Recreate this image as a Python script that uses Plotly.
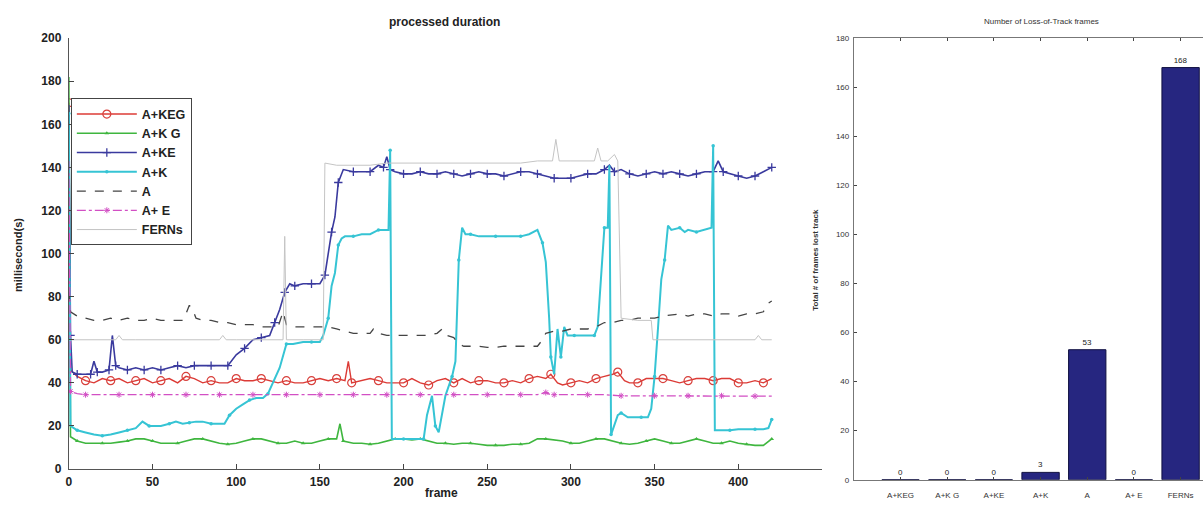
import plotly.graph_objects as go

# ---------------- data: left chart (processed duration, ms per frame) ----------------
keg_f = [0, 1, 5, 10, 15, 20, 25, 30, 35, 40, 45, 50, 55, 60, 65, 70, 75, 80, 85, 90, 95, 100, 105, 110, 115, 120,
         125, 130, 135, 140, 145, 150, 155, 160, 165, 167, 169, 175, 180, 185, 190, 195, 200, 205, 210, 215, 220, 225,
         230, 235, 240, 245, 250, 255, 260, 265, 270, 275, 280, 285, 288, 292, 295, 300, 305, 310, 315, 320, 325, 328,
         332, 335, 340, 345, 350, 355, 360, 365, 370, 375, 380, 385, 390, 395, 400, 405, 410, 415, 420]
keg_ms = [170, 46, 43, 41, 40, 42, 41, 42, 40, 41, 42, 40, 41, 42, 40, 43, 42, 40, 41, 40, 40, 42, 41, 41, 42, 41,
          40, 41, 40, 40, 41, 42, 41, 42, 41, 50, 40, 41, 42, 41, 40, 40, 40, 42, 40, 39, 41, 42,
          40, 42, 40, 41, 41, 40, 40, 41, 40, 42, 43, 42, 44, 40, 39, 40, 41, 40, 42, 43, 44, 45,
          41, 40, 40, 42, 42, 42, 41, 40, 41, 42, 42, 41, 42, 42, 40, 40, 41, 40, 42]

kg_f = [0, 1, 5, 10, 15, 20, 25, 30, 35, 40, 45, 50, 55, 60, 65, 70, 75, 80, 85, 90, 95, 100, 105, 110, 115, 120, 125,
        130, 135, 140, 145, 150, 155, 160, 162, 164, 170, 175, 180, 185, 190, 195, 200, 205, 210, 215, 220, 225, 230,
        235, 240, 245, 250, 255, 260, 265, 270, 275, 280, 285, 290, 295, 300, 305, 310, 315, 320, 325, 330, 335, 340,
        345, 350, 355, 360, 365, 370, 375, 380, 385, 390, 395, 400, 405, 410, 415, 420]
kg_ms = [182, 15, 13, 12, 12, 12, 12, 12.5, 13, 14, 14, 13, 12, 12, 12, 13, 14, 14, 13, 12, 11.5, 12, 13, 14, 14, 13, 12,
         12, 13, 12, 12, 13, 14, 14, 21, 13, 12, 12, 11.5, 12, 13, 14, 14, 13.5, 14, 13, 12, 12, 11.5,
         12, 12, 11.5, 11, 11, 11, 11.5, 11.5, 12, 14, 14, 13.5, 13, 12, 12, 13, 14, 14, 13, 12, 11.5, 12,
         13, 14, 13, 12, 12, 13, 14, 13, 12, 12, 13, 12, 11.5, 11, 11, 14]

ke_f = [0, 1, 2, 5, 10, 13, 15, 17, 20, 24, 26, 28, 30, 35, 40, 45, 50, 55, 60, 65, 70, 75, 80, 85, 90, 95, 100, 105,
        110, 115, 120, 123, 126, 129, 132, 135, 140, 145, 150, 153, 155, 157, 159, 161, 164, 170, 175, 180, 185, 188,
        190, 192, 195, 200, 205, 210, 215, 220, 225, 230, 235, 240, 245, 250, 255, 260, 265, 270, 275, 280, 285, 290,
        295, 300, 305, 310, 315, 320, 323, 326, 330, 335, 340, 345, 350, 355, 360, 365, 370, 375, 380, 385, 388, 391,
        395, 400, 405, 410, 415, 420]
ke_ms = [169, 62, 45, 44, 44, 44, 50, 45, 45, 46, 62, 48, 47, 46, 47, 46, 47, 46, 47, 48, 47, 48, 48, 48, 48, 48, 53, 56,
         60, 61, 62, 68, 74, 82, 86, 85, 86, 86, 86, 90, 100, 110, 117, 133, 139, 138, 138, 138, 141, 140,
         145, 139, 138, 137, 137, 138, 137, 137, 138, 137, 136, 137, 138, 137, 137, 136, 137, 138, 138, 137, 136, 135,
         135, 135, 136, 137, 137, 139, 141, 138, 139, 137, 136, 137, 138, 137, 138, 137, 136, 137, 138, 138, 143, 138,
         137, 136, 135, 136, 138, 140]

k_f = [0, 1, 3, 5, 10, 15, 20, 25, 30, 35, 40, 44, 48, 52, 55, 60, 64, 68, 72, 76, 80, 85, 90, 93, 96, 100, 104, 108,
       112, 116, 119, 122, 126, 130, 134, 140, 145, 150, 152, 155, 157, 159, 161, 163, 165, 170, 175, 180, 185, 188,
       191, 192, 193, 195, 200, 205, 210, 212, 214, 217, 219, 221, 225, 229, 231, 232, 233, 235, 237, 240, 245, 250,
       255, 260, 265, 270, 275, 280, 283, 285, 287, 288, 290, 292, 294, 296, 298, 302, 306, 310, 314, 316, 318, 320,
       322, 323, 324, 326, 328, 330, 334, 338, 342, 346, 348, 350, 352, 354, 356, 358, 360, 365, 368, 370, 375, 380,
       384, 385, 386, 390, 395, 400, 405, 410, 415, 418, 420]
k_ms = [165, 20, 19, 18, 17, 16, 15.5, 16, 17, 18, 19, 22, 20, 20, 20, 21, 22, 21, 21.5, 22, 22, 21, 21, 21, 25, 28, 30, 32,
        33, 33, 35, 40, 47, 58, 58, 59, 59, 59, 62, 70, 85, 91, 104, 107, 108, 108, 109, 109, 111, 111,
        111, 148, 14, 14, 14, 14, 14, 14, 25, 34, 20, 17, 34, 43, 50, 75, 97, 112, 109, 109, 108, 108,
        108, 108, 108, 108, 109, 111, 105, 96, 70, 52, 44, 65, 52, 66, 62, 62, 62, 62, 62, 66, 88, 112,
        112, 141, 16, 21, 25, 26, 24, 24, 24, 24, 28, 43, 65, 88, 97, 113, 111, 112, 110, 111, 110, 111,
        112, 150, 18, 18, 18, 18.5, 18.5, 18.5, 18.5, 19, 23]

a_f = [0, 1, 5, 10, 15, 20, 25, 30, 35, 40, 45, 50, 55, 60, 65, 68, 70, 72, 74, 76, 80, 85, 90, 95, 100, 105, 110, 115,
       120, 125, 128, 130, 135, 140, 145, 150, 155, 160, 165, 170, 175, 180, 182, 185, 190, 195, 200, 205, 210, 215,
       220, 223, 226, 230, 233, 236, 240, 245, 250, 255, 260, 265, 270, 275, 280, 283, 285, 290, 295, 300, 305, 310,
       315, 320, 325, 330, 335, 340, 345, 350, 355, 360, 365, 370, 375, 380, 385, 390, 395, 400, 405, 410, 415, 418,
       420]
a_ms = [82, 73, 71, 70, 69, 69, 70, 69, 70, 69, 69, 70, 69, 69, 69, 69, 72, 76, 74, 70, 69, 69, 68, 68, 67, 67, 67, 66,
        66, 66, 73, 67, 66, 66, 66, 66, 66, 65, 64, 63, 63, 63, 65, 63, 62, 62, 62, 62, 62, 62,
        63, 65, 62, 61, 58, 57, 57, 57, 56.5, 56.5, 57, 57, 57, 57, 57, 60, 63, 64, 64, 65, 65, 65,
        66, 68, 68, 69, 69, 70, 70, 70, 71, 71.5, 72, 71, 72, 72, 71, 72, 72, 71, 72, 72, 73, 77,
        78]

ae_f = [0, 1, 5, 10, 20, 30, 40, 50, 60, 70, 80, 90, 100, 110, 120, 130, 140, 150, 160, 170, 180, 190, 200, 210, 220,
        230, 240, 250, 260, 270, 280, 285, 288, 290, 300, 310, 320, 330, 340, 350, 360, 370, 380, 390, 400, 410, 420]
ae_ms = [143, 36, 35, 34.5, 34.5, 34.5, 34.5, 34.5, 34.5, 34.5, 34.5, 34.5, 34.5, 34.5, 34.5, 34.5, 34.5, 34.5, 34.5,
         34.5, 34.5, 34.5, 34.5, 34.5, 34.5, 34.5, 34.5, 34.5, 34.5, 34.5, 34.5, 35.5, 34.5, 34.5, 34.5, 34.5, 34.5, 34,
         34, 34, 34, 34, 34, 34, 34, 33.8, 33.8]

fe_f = [0, 1, 10, 20, 28, 30, 32, 40, 50, 60, 70, 80, 90, 92, 94, 100, 110, 120, 128, 129, 130, 140, 150, 152, 153, 160,
        170, 180, 190, 200, 210, 220, 230, 240, 250, 260, 270, 280, 289, 291, 293, 300, 310, 314, 316, 318, 322, 326,
        328, 330, 340, 348, 349, 360, 370, 380, 390, 400, 410, 412, 414, 420]
fe_ms = [60, 60, 60, 60, 60, 62, 60, 60, 60, 60, 60, 60, 60, 62, 60, 60, 60, 60, 60, 108, 60, 60, 60, 60, 142, 141,
         141, 141, 142, 142, 142, 142, 142, 142, 142, 142, 142, 143, 143, 153, 143, 143, 143, 143, 149, 143, 143, 146,
         143, 70, 69, 69, 60, 60, 60, 60, 60, 60, 60, 62, 60, 60]

x_ticks = [0, 50, 100, 150, 200, 250, 300, 350, 400]
y_ticks = [0, 20, 40, 60, 80, 100, 120, 140, 160, 180, 200]

# ---------------- data: right chart (loss-of-track frames) ----------------
methods = ["A+KEG", "A+K G", "A+KE", "A+K", "A", "A+ E", "FERNs"]
lost_frames = [0, 0, 0, 3, 53, 0, 168]
bar_y_ticks = [0, 20, 40, 60, 80, 100, 120, 140, 160, 180]

W, H = 1203, 513
BOLD = "Liberation Sans"
NARROW = "Liberation Sans Narrow, Liberation Sans"

fig = go.Figure()

series = [
    ("A+KEG", keg_f, keg_ms, "#dc3b36", "solid", 1.4, dict(symbol="circle-open", size=8, color="#d8403c",
                                                         line=dict(width=1.2), maxdisplayed=44)),
    ("A+K G", kg_f, kg_ms, "#3fb63f", "solid", 1.6, dict(symbol="triangle-up", size=4, color="#3fb63f",
                                                       maxdisplayed=42)),
    ("A+KE", ke_f, ke_ms, "#3a3a9e", "solid", 1.6, dict(symbol="cross-thin", size=6, color="#3a3a9e",
                                                      line=dict(width=1.3, color="#3a3a9e"), maxdisplayed=50)),
    ("A+K", k_f, k_ms, "#36c4d4", "solid", 2.0, dict(symbol="circle", size=3.5, color="#36c4d4",
                                                   maxdisplayed=62)),
    ("A", a_f, a_ms, "#444444", "dash", 1.3, None),
    ("A+ E", ae_f, ae_ms, "#d24fc4", "dashdot", 1.3, dict(symbol="asterisk-open", size=5, color="#d24fc4",
                                                        line=dict(width=1, color="#d24fc4"), maxdisplayed=30)),
    ("FERNs", fe_f, fe_ms, "#c4c4c4", "solid", 1.0, None),
]

for name, fx, fy, col, dash, lw, mk in series:
    kw = dict(x=fx, y=fy, name=name, xaxis="x", yaxis="y",
              line=dict(color=col, dash=dash, width=lw), cliponaxis=True)
    if mk is not None:
        kw["mode"] = "lines+markers"
        kw["marker"] = mk
    else:
        kw["mode"] = "lines"
    fig.add_trace(go.Scatter(**kw))

fig.add_trace(go.Bar(
    x=methods, y=lost_frames, xaxis="x2", yaxis="y2", showlegend=False,
    marker=dict(color="#262680", line=dict(color="#101040", width=1)),
    width=0.8, text=[str(v) for v in lost_frames], textposition="outside",
    textfont=dict(size=8, color="#222", family=NARROW),
    cliponaxis=False,
))

ax_font = dict(family=BOLD, size=12, color="#222", weight="bold")
small_font = dict(family=NARROW, size=8, color="#333")


def label(text, px, py, font, angle=0):
    return dict(text=text, x=px / W, y=1 - py / H, xref="paper", yref="paper", xanchor="center",
                yanchor="middle", textangle=angle, showarrow=False, font=font)


fig.update_layout(
    width=W, height=H,
    margin=dict(l=0, r=0, t=0, b=0),
    paper_bgcolor="white", plot_bgcolor="white",
    showlegend=True,
    legend=dict(x=68 / W, y=1 - 94 / H, xanchor="left", yanchor="top",
                bgcolor="white", bordercolor="#444", borderwidth=1,
                font=dict(family=BOLD, size=12.5, color="#222", weight="bold"),
                tracegroupgap=0, itemwidth=60),
    xaxis=dict(domain=[66 / W, 821 / W], range=[0, 450], tickvals=x_ticks, ticks="inside", ticklen=5,
               showline=True, linecolor="#555", linewidth=1.2, showgrid=False, zeroline=False,
               tickfont=ax_font, anchor="y", mirror=False, ticklabelstandoff=1),
    yaxis=dict(domain=[1 - 475 / H, 1 - 32 / H], range=[0, 200], tickvals=y_ticks, ticks="inside", ticklen=5,
               showline=True, linecolor="#555", linewidth=1.2, showgrid=False, zeroline=False,
               tickfont=ax_font, anchor="x", ticklabelstandoff=4),
    xaxis2=dict(domain=[853 / W, 1.0], range=[-1, 6.48], type="category", ticks="inside", ticklen=3,
                showline=True, linecolor="#777", linewidth=1, mirror="ticks", showgrid=False,
                tickfont=small_font, anchor="y2", ticklabelstandoff=8),
    yaxis2=dict(domain=[1 - 486 / H, 1 - 32 / H], range=[0, 180], tickvals=bar_y_ticks, ticks="inside",
                ticklen=3, showline=True, linecolor="#777", linewidth=1, showgrid=False, zeroline=False,
                tickfont=small_font, anchor="x2", ticklabelstandoff=2),
    annotations=[
        label("processed duration", 443, 15, dict(family=BOLD, size=12, color="#222", weight="bold")),
        label("frame", 440, 500, dict(family=BOLD, size=12, color="#222", weight="bold")),
        label("millisecond(s)", 15, 255, dict(family=BOLD, size=11, color="#222", weight="bold"), -90),
        label("Number of Loss-of-Track frames", 1041, 15, dict(family=NARROW, size=8, color="#333")),
        label("Total # of frames lost track", 815, 260,
              dict(family=NARROW, size=8, color="#333", weight="bold"), -90),
    ],
)

fig.write_html("out.html")
